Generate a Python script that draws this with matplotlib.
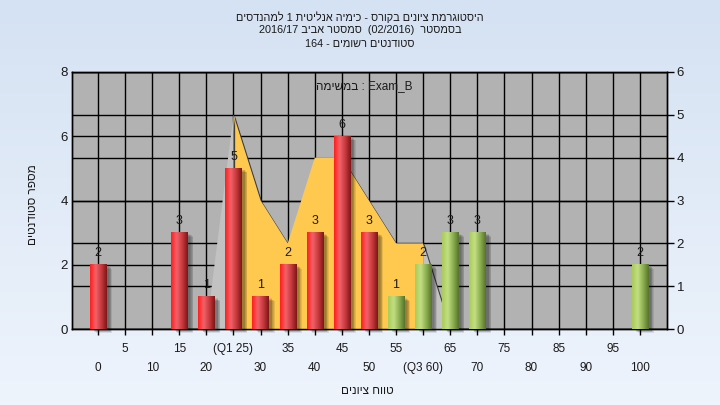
import numpy as np
import matplotlib
matplotlib.use('Agg')
import matplotlib.pyplot as plt
from matplotlib import patheffects, transforms
from matplotlib.colors import LinearSegmentedColormap
from matplotlib.patches import Rectangle

plt.rcParams['font.family'] = ['Liberation Sans', 'DejaVu Sans']


def rtl(s):
    # matplotlib has no bidi support, so hebrew runs are given in visual order
    return s[::-1]


# data
grades = [0, 5, 10, 15, 20, 25, 30, 35, 40, 45, 50, 55, 60, 65, 70, 75, 80, 85, 90, 95, 100]
tick_labels = ['0', '5', '10', '15', '20', '(Q1 25)', '30', '35', '40', '45', '50',
               '55', '(Q3 60)', '65', '70', '75', '80', '85', '90', '95', '100']
counts = [2, 0, 0, 3, 1, 5, 1, 2, 3, 6, 3, 1, 2, 3, 3, 0, 0, 0, 0, 0, 2]
area = [0, 0, 0, 0, 0, 5, 3, 2, 4, 4, 3, 2, 2, 0, 0, 0, 0, 0, 0, 0, 0]
q1, q3 = 25, 60
fail_limit = 55   # bars below this grade are red

title1 = rtl('היסטוגרמת ציונים בקורס - כימיה אנליטית 1 למהנדסים')
title2 = '2016/17 ' + rtl('סמסטר אביב') + '  (02/2016)  ' + rtl('בסמסטר')
title3 = '164 - ' + rtl('סטודנטים רשומים')
note = rtl('במשימה') + ' : Exam_B'
xlab = rtl('טווח ציונים')
ylab = rtl('מספר סטודנטים')

fig = plt.figure(figsize=(7.2, 4.05), dpi=100)

# light blue gradient background
bg = fig.add_axes([0, 0, 1, 1], zorder=-5)
bg.imshow(np.linspace(0, 1, 100).reshape(-1, 1), aspect='auto', extent=(0, 1, 0, 1),
          cmap=LinearSegmentedColormap.from_list('bg', ['#d5e2f3', '#eef4fc']))
bg.axis('off')

rect = [72 / 720, 76 / 405, 595 / 720, 257 / 405]
ax = fig.add_axes(rect, zorder=1)
ax2 = ax.twinx()
ax3 = ax.twinx()
ax2.set_zorder(2)
ax3.set_zorder(3)

x = np.arange(len(grades))
ax.set_xlim(-0.96, 21.0)
ax.set_ylim(0, 8)
ax2.set_ylim(0, 6)
ax3.set_ylim(0, 8)

ax.set_facecolor('#b2b2b2')
ax2.patch.set_visible(False)
ax3.patch.set_visible(False)

# ticks, labels alternate between two rows
ax.set_xticks(x[::2])
ax.set_xticks(x[1::2], minor=True)
ax.set_xticklabels(tick_labels[::2])
ax.set_xticklabels(tick_labels[1::2], minor=True)
ax.tick_params(axis='x', which='both', length=4, width=1, color='black',
               labelsize=8.5, labelcolor='#1a1a1a')
ax.tick_params(axis='x', which='major', pad=20)
ax.tick_params(axis='x', which='minor', pad=6)
ax.set_yticks([0, 2, 4, 6, 8])
ax.tick_params(axis='y', length=0, pad=3, labelsize=9.5, labelcolor='#1a1a1a')
ax2.set_yticks(range(7))
ax2.tick_params(axis='y', length=5, width=1, pad=2, labelsize=9.5, labelcolor='#1a1a1a')
ax3.yaxis.set_visible(False)
for s in ax3.spines.values():
    s.set_visible(False)
for a in (ax, ax2):
    for s in a.spines.values():
        s.set_color('black')
        s.set_linewidth(1)

# grid lines for both y axes, sit behind the area
ax.grid(axis='x', which='both', color='black', lw=1)
ax.grid(axis='y', color='black', lw=1)
ax2.set_axisbelow(True)
ax2.grid(axis='y', color='black', lw=1)

# area series on right axis, yellow between Q1 and Q3
i1, i3 = grades.index(q1), grades.index(q3)
shadow = [patheffects.SimplePatchShadow(offset=(1.2, -1.2), shadow_rgbFace='#303030', alpha=0.9),
          patheffects.Normal()]
inside = (x >= i1) & (x <= i3)
pc = ax2.fill_between(x, 0, area, where=inside, color='#ffc950', lw=0)
pc.set_path_effects(shadow)
pc = ax2.fill_between(x, 0, area, where=(x <= i1), color='#c2c2c2', lw=0)
pc.set_path_effects(shadow)
pc = ax2.fill_between(x, 0, area, where=(x >= i3), color='#c2c2c2', lw=0)
pc.set_path_effects(shadow)

# cylinder-like gradient bars
red = LinearSegmentedColormap.from_list('r', ['#ff1e1e', '#f2626a', '#c83a3e', '#7c1616'])
green = LinearSegmentedColormap.from_list('g', ['#a8cc58', '#c4df84', '#8caf50', '#56722c'])
grad = np.linspace(0, 1, 64).reshape(1, -1)
w = 0.6
for xi, g, c in zip(x, grades, counts):
    if c == 0:
        continue
    for k in range(5):
        off = transforms.ScaledTranslation((2.2 + k * 0.5) / 72, -(1.0 + k * 0.45) / 72,
                                           fig.dpi_scale_trans)
        ax3.add_patch(Rectangle((xi - w / 2, 0), w, c, color='black', alpha=0.09, lw=0,
                                transform=ax3.transData + off, clip_on=False, zorder=2))
    ax3.imshow(grad, cmap=red if g < fail_limit else green, aspect='auto',
               extent=(xi - w / 2, xi + w / 2, 0, c), interpolation='bicubic', zorder=3)
    ax3.annotate(str(c), (xi, c), xytext=(0, 4), textcoords='offset points',
                 ha='center', va='bottom', fontsize=9, color='#1a1a1a', zorder=4)
ax3.set_xlim(-0.96, 21.0)
ax3.set_ylim(0, 8)

ax3.text(0.492, 0.945, note, transform=ax3.transAxes, ha='center', va='center',
         fontsize=8.5, color='#1a1a1a')

fig.text(0.5, 1 - 17 / 405, title1, ha='center', va='center', fontsize=7.8, color='#1a1a1a')
fig.text(0.5, 1 - 30 / 405, title2, ha='center', va='center', fontsize=7.8, color='#1a1a1a')
fig.text(0.5, 1 - 44 / 405, title3, ha='center', va='center', fontsize=7.8, color='#1a1a1a')
fig.text(367 / 720, 1 - 391 / 405, xlab, ha='center', va='center', fontsize=8.5, color='#1a1a1a')
fig.text(33 / 720, 1 - 205 / 405, ylab, ha='center', va='center', rotation=90,
         fontsize=8.5, color='#1a1a1a')

fig.savefig('out.png', dpi=100)
